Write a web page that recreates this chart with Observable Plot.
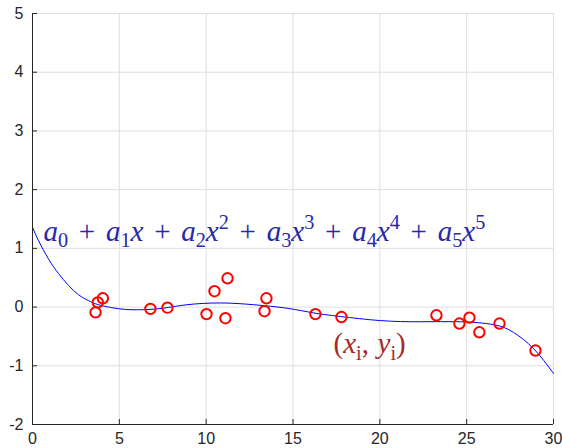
<!DOCTYPE html>
<html><head><meta charset="utf-8">
<script src="https://cdn.jsdelivr.net/npm/d3@7"></script>
<script src="https://cdn.jsdelivr.net/npm/@observablehq/plot@0.6"></script>
<style>body{margin:0;background:#fff}</style>
</head><body><div id="chart"></div>
<script>
// sample points (x_i, y_i)
const pointX = [3.63, 3.76, 4.05, 6.79, 7.77, 10.02, 10.48, 11.23, 11.11, 13.36, 13.47, 16.29, 17.79, 23.26, 24.58, 25.16, 25.73, 26.89, 28.96];
const pointY = [-0.09, 0.08, 0.15, -0.03, -0.01, -0.12, 0.27, 0.49, -0.19, -0.07, 0.15, -0.12, -0.17, -0.14, -0.28, -0.18, -0.43, -0.28, -0.74];
// fitted polynomial curve
const curveX = [0, 0.35, 0.92, 1.5, 2.07, 2.65, 3.22, 3.8, 4.57, 5.34, 6.3, 7.5, 8.9, 10.82, 12.73, 14.66, 16.2, 17.73, 20.03, 22.34, 24.64, 26.56, 27.69, 28.86, 30];
const curveY = [1.36, 1.13, 0.82, 0.57, 0.37, 0.21, 0.11, 0.04, -0.01, -0.04, -0.045, -0.02, 0.04, 0.07, 0.04, -0.02, -0.10, -0.16, -0.23, -0.25, -0.25, -0.30, -0.43, -0.71, -1.13];
const xTicks = [0, 5, 10, 15, 20, 25, 30];
const yTicks = [-2, -1, 0, 1, 2, 3, 4, 5];
const labelText = ["a_0 + a_1x + a_2x^2 + a_3x^3 + a_4x^4 + a_5x^5", "(x_i, y_i)"];
const labelX = [0.63, 17.33];
const labelY = [1.13, -0.79];
const labelColor = ["#2828a8", "#a52a2a"];

const points = pointX.map((x, i) => ({x, y: pointY[i]}));
const curve = curveX.map((x, i) => ({x, y: curveY[i]}));
const labels = labelText.map((t, i) => ({t, x: labelX[i], y: labelY[i], c: labelColor[i]}));

const FS = 29;
const SERIF = "'Liberation Serif', 'Times New Roman', serif";
const axisColor = "#262626";
const chart = Plot.plot({
  width: 562, height: 448,
  marginLeft: 32, marginRight: 9, marginTop: 13, marginBottom: 24,
  x: {domain: [0, 30], label: null},
  y: {domain: [-2, 5], label: null},
  style: {fontFamily: "'Liberation Sans', Arial, sans-serif", fontSize: "16px", color: axisColor, background: "#fff", overflow: "visible"},
  marks: [
    Plot.gridX(xTicks, {stroke: "#dedede", strokeOpacity: 1}),
    Plot.gridY(yTicks, {stroke: "#dedede", strokeOpacity: 1}),
    Plot.line(curve, {x: "x", y: "y", stroke: "#0000ff", strokeWidth: 1, curve: "natural"}),
    Plot.dot(points, {x: "x", y: "y", r: 5.2, stroke: "#ff0000", strokeWidth: 2, fill: "none"}),
    Plot.ruleX([0], {stroke: axisColor}),
    Plot.ruleY([-2], {stroke: axisColor}),
    Plot.axisX(xTicks, {tickSize: -5, tickPadding: 13, stroke: axisColor, tickFormat: d => String(d), fontSize: 16, label: null}),
    Plot.axisY(yTicks, {tickSize: -5, tickPadding: 14, stroke: axisColor, tickFormat: d => String(d), fontSize: 16, label: null}),
    Plot.text(labels, {x: "x", y: "y", text: "t", fill: "c", textAnchor: "start", lineAnchor: "bottom", fontSize: FS, fontFamily: SERIF})
  ]
});
document.getElementById("chart").append(chart);

// turn _ and ^ markup into tspans (sub/superscripts, italic variables)
const ns = "http://www.w3.org/2000/svg";
function richify(el, src) {
  el.textContent = "";
  el.style.fontFamily = SERIF;
  el.setAttribute("text-anchor", "start");
  const re = /([_^])(\w)|([A-Za-z])|(\s*\+\s*)|(, )|([^A-Za-z_^+,]+)/g;
  let m, shift = 0, pendingDx = 0;
  const gap = 0.37 * FS;
  while ((m = re.exec(src))) {
    const t = document.createElementNS(ns, "tspan");
    let target = 0, txt;
    if (m[1]) { target = m[1] === "_" ? 0.22 * FS : -0.42 * FS; txt = m[2]; t.style.fontSize = (0.7 * FS) + "px"; }
    else if (m[3]) { txt = m[3]; t.style.fontStyle = "italic"; }
    else if (m[4]) { txt = "+"; pendingDx += gap; }
    else if (m[5]) { txt = ","; }
    else { txt = m[6]; }
    if (target !== shift) { t.setAttribute("dy", target - shift); shift = target; }
    if (pendingDx) { t.setAttribute("dx", pendingDx); pendingDx = 0; }
    if (m[4]) pendingDx = gap;
    if (m[5]) pendingDx = 0.3 * FS;
    t.style.fontFamily = SERIF;
    t.textContent = txt;
    el.appendChild(t);
  }
}
d3.select(chart).selectAll("text").each(function () {
  const i = labelText.indexOf(this.textContent);
  if (i >= 0) richify(this, labelText[i]);
});
</script>
</body></html>
